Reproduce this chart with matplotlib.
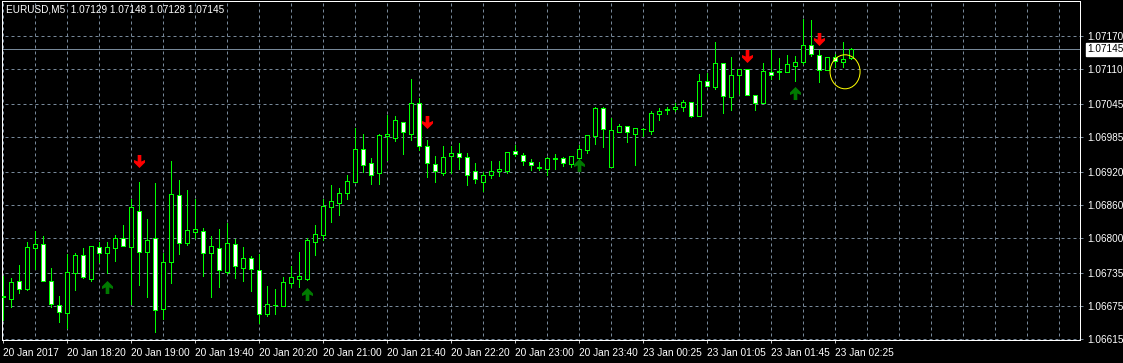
import matplotlib
matplotlib.use("Agg")
import matplotlib.pyplot as plt
import matplotlib.transforms as mtransforms
from matplotlib.path import Path
from matplotlib.patches import Ellipse
import numpy as np

# EURUSD M5, bars from 20 Jan 2017 17:40 to 23 Jan 02:30
symbol = "EURUSD,M5"
opens = [1.06691, 1.06688, 1.06721, 1.06707, 1.06781, 1.06788, 1.06722, 1.06677, 1.06663, 1.06736,
         1.06768, 1.06725, 1.06783, 1.06772, 1.06781, 1.06799, 1.06784, 1.06849, 1.06775, 1.06799,
         1.06669, 1.06755, 1.06878, 1.06790, 1.06810, 1.06812, 1.06772, 1.06781, 1.06738, 1.06789,
         1.06745, 1.06763, 1.06741, 1.06661, 1.06678, 1.06675, 1.06717, 1.06725, 1.06725, 1.06793,
         1.06806, 1.06857, 1.06864, 1.06882, 1.06903, 1.06962, 1.06937, 1.06918, 1.06986, 1.06983,
         1.07013, 1.06991, 1.07046, 1.06968, 1.06935, 1.06918, 1.06949, 1.06955, 1.06948, 1.06922,
         1.06902, 1.06915, 1.06922, 1.06922, 1.06959, 1.06951, 1.06938, 1.06929, 1.06927, 1.06945,
         1.06946, 1.06935, 1.06947, 1.06960, 1.06987, 1.07037, 1.06929, 1.06994, 1.07004, 1.06991,
         1.06999, 1.06996, 1.07027, 1.07034, 1.07035, 1.07039, 1.07048, 1.07024, 1.07088, 1.07077,
         1.07120, 1.07058, 1.07099, 1.07109, 1.07061, 1.07046, 1.07103, 1.07105, 1.07103, 1.07115,
         1.07121, 1.07153, 1.07135, 1.07107, 1.07131, 1.07122, 1.07129]
highs = [1.06730, 1.06726, 1.06750, 1.06792, 1.06813, 1.06803, 1.06745, 1.06694, 1.06770, 1.06773,
         1.06781, 1.06786, 1.06792, 1.06792, 1.06805, 1.06824, 1.06871, 1.06902, 1.06835, 1.06900,
         1.06772, 1.06941, 1.06906, 1.06888, 1.06872, 1.06819, 1.06803, 1.06816, 1.06827, 1.06798,
         1.06783, 1.06767, 1.06770, 1.06712, 1.06707, 1.06728, 1.06749, 1.06774, 1.06799, 1.06824,
         1.06872, 1.06897, 1.06891, 1.06916, 1.07001, 1.06990, 1.06946, 1.06991, 1.07025, 1.07023,
         1.07013, 1.07091, 1.07056, 1.06979, 1.06950, 1.06968, 1.06968, 1.06973, 1.06955, 1.06937,
         1.06921, 1.06941, 1.06941, 1.06957, 1.06970, 1.06956, 1.06944, 1.06938, 1.06948, 1.06953,
         1.06948, 1.06949, 1.06970, 1.06988, 1.07039, 1.07040, 1.07019, 1.07008, 1.07004, 1.07001,
         1.07001, 1.07032, 1.07037, 1.07039, 1.07047, 1.07052, 1.07049, 1.07100, 1.07101, 1.07159,
         1.07120, 1.07131, 1.07109, 1.07109, 1.07061, 1.07120, 1.07143, 1.07129, 1.07134, 1.07133,
         1.07201, 1.07199, 1.07144, 1.07131, 1.07137, 1.07159, 1.07148]
lows = [1.06650, 1.06674, 1.06700, 1.06705, 1.06744, 1.06722, 1.06673, 1.06647, 1.06635, 1.06705,
        1.06726, 1.06722, 1.06755, 1.06735, 1.06758, 1.06785, 1.06679, 1.06714, 1.06692, 1.06627,
        1.06652, 1.06718, 1.06771, 1.06787, 1.06799, 1.06731, 1.06692, 1.06711, 1.06734, 1.06727,
        1.06722, 1.06702, 1.06645, 1.06658, 1.06661, 1.06675, 1.06711, 1.06711, 1.06723, 1.06769,
        1.06796, 1.06830, 1.06842, 1.06871, 1.06903, 1.06921, 1.06899, 1.06899, 1.06942, 1.06977,
        1.06954, 1.06979, 1.06960, 1.06912, 1.06903, 1.06915, 1.06918, 1.06927, 1.06897, 1.06900,
        1.06886, 1.06909, 1.06914, 1.06919, 1.06950, 1.06933, 1.06924, 1.06924, 1.06915, 1.06927,
        1.06932, 1.06929, 1.06944, 1.06956, 1.06971, 1.06966, 1.06929, 1.06993, 1.06976, 1.06933,
        1.06987, 1.06991, 1.07016, 1.07027, 1.07033, 1.07033, 1.07022, 1.07024, 1.07078, 1.07072,
        1.07028, 1.07034, 1.07063, 1.07061, 1.07034, 1.07046, 1.07091, 1.07090, 1.07103, 1.07088,
        1.07118, 1.07133, 1.07085, 1.07107, 1.07113, 1.07113, 1.07128]
closes = [1.06693, 1.06719, 1.06706, 1.06783, 1.06788, 1.06722, 1.06679, 1.06665, 1.06738, 1.06768,
          1.06729, 1.06785, 1.06773, 1.06783, 1.06799, 1.06785, 1.06856, 1.06774, 1.06796, 1.06668,
          1.06755, 1.06880, 1.06790, 1.06814, 1.06816, 1.06772, 1.06785, 1.06741, 1.06791, 1.06748,
          1.06763, 1.06743, 1.06661, 1.06679, 1.06677, 1.06719, 1.06728, 1.06730, 1.06796, 1.06807,
          1.06858, 1.06867, 1.06882, 1.06905, 1.06962, 1.06933, 1.06916, 1.06988, 1.06990, 1.07015,
          1.06993, 1.07046, 1.06969, 1.06937, 1.06922, 1.06948, 1.06955, 1.06948, 1.06916, 1.06907,
          1.06916, 1.06922, 1.06926, 1.06957, 1.06953, 1.06940, 1.06933, 1.06928, 1.06946, 1.06946,
          1.06937, 1.06949, 1.06962, 1.06988, 1.07037, 1.06999, 1.06997, 1.07005, 1.06994, 1.07001,
          1.07000, 1.07028, 1.07032, 1.07035, 1.07039, 1.07049, 1.07024, 1.07088, 1.07078, 1.07120,
          1.07059, 1.07099, 1.07109, 1.07061, 1.07046, 1.07105, 1.07099, 1.07104, 1.07118, 1.07122,
          1.07153, 1.07136, 1.07107, 1.07131, 1.07124, 1.07127, 1.07145]

price_levels = [1.07170, 1.07110, 1.07045, 1.06985, 1.06920, 1.06860, 1.06800, 1.06735, 1.06675, 1.06615]
time_labels = ["20 Jan 2017", "20 Jan 18:20", "20 Jan 19:00", "20 Jan 19:40", "20 Jan 20:20",
               "20 Jan 21:00", "20 Jan 21:40", "20 Jan 22:20", "20 Jan 23:00", "20 Jan 23:40",
               "23 Jan 00:25", "23 Jan 01:05", "23 Jan 01:45", "23 Jan 02:25"]

# signal arrows
sell_bars = [17, 53, 93, 102]
sell_prices = [1.06940, 1.07013, 1.07132, 1.07164]
buy_bars = [13, 38, 72, 99]
buy_prices = [1.06710, 1.06697, 1.06933, 1.07065]
circle_bar = 105.2
circle_price = 1.07104

W, H = 1123, 363
PX = 0.72  # one pixel in points
LIME = "#00FF00"
GRIDC = "#778899"
FONT = "Liberation Sans"

fig = plt.figure(figsize=(W / 100, H / 100), dpi=100, facecolor="black")
ax = fig.add_axes([2 / W, 23 / H, 1078.3 / W, 339.5 / H])
ax.set_facecolor("black")

o = np.array(opens)
h = np.array(highs)
l = np.array(lows)
c = np.array(closes)
x = np.arange(len(o))

ax.set_xlim(-0.1625, 134.6)
ax.set_ylim(1.0661317, 1.0723446)

# grid
ax.vlines(np.arange(0, 134, 4), 1.0661, 1.0724, colors=GRIDC, linewidth=PX,
          linestyles=(0, (3, 3)), zorder=0)
ax.hlines(price_levels, -1, 136, colors=GRIDC, linewidth=PX,
          linestyles=(0, (3, 3)), zorder=0)

# current price line
ax.axhline(c[-1], color=GRIDC, linewidth=PX, zorder=1)

# candles
ax.vlines(x, l, h, colors=LIME, linewidth=PX, zorder=2, antialiased=False)
faces = np.where(c >= o, "black", "white")
body = np.maximum(np.abs(c - o), 1e-7)
ax.bar(x, body, bottom=np.minimum(o, c), width=0.5, color=faces,
       edgecolor=LIME, linewidth=PX, zorder=3, antialiased=False)

# arrows
down = Path([(-0.14, 0.5), (0.14, 0.5), (0.14, 0.0), (0.42, 0.12), (0.42, -0.08),
             (0.0, -0.5), (-0.42, -0.08), (-0.42, 0.12), (-0.14, 0.0), (-0.14, 0.5)],
            closed=True)
up = Path([(vx, -vy) for vx, vy in down.vertices], closed=True)
ax.plot(sell_bars, sell_prices, linestyle="none", marker=down, markersize=9.4,
        color="#FF0000", markeredgewidth=0, zorder=4)
ax.plot(buy_bars, buy_prices, linestyle="none", marker=up, markersize=9.4,
        color="#007A00", markeredgewidth=0, zorder=4)

ax.add_patch(Ellipse((circle_bar, circle_price), width=30 / 8, height=34 * 0.0000183,
                     fill=False, edgecolor="#FFFF00", linewidth=PX, zorder=5))

# axes styling
for s in ax.spines.values():
    s.set_color("white")
    s.set_linewidth(PX)

ax.yaxis.tick_right()
ax.set_yticks(price_levels)
ax.set_yticklabels(["%.5f" % p for p in price_levels])
ax.tick_params(axis="y", colors=GRIDC, labelcolor="white", length=2.2, width=PX,
               pad=2.5, labelsize=7.2)
ax.set_xticks(np.arange(0, 8 * len(time_labels), 8))
ax.set_xticklabels(time_labels)
ax.tick_params(axis="x", colors="#C0C0C0", labelcolor="white", length=2.2, width=PX,
               pad=3.3, labelsize=7.3)
for t in ax.get_xticklabels():
    t.set_horizontalalignment("left")
for t in ax.get_xticklabels() + ax.get_yticklabels():
    t.set_fontfamily(FONT)

# last price label
trans = mtransforms.blended_transform_factory(ax.transAxes, ax.transData)
ax.text(1 + 6.5 / 1078.3, c[-1], "%.5f" % c[-1], transform=trans, ha="left", va="center",
        fontsize=7.2, family=FONT, color="black",
        bbox=dict(boxstyle="square,pad=0.12", facecolor="white", edgecolor="white"))

fig.text(6 / W, 1 - 10 / H, "%s  %.5f %.5f %.5f %.5f" % (symbol, o[-1], h[-1], l[-1], c[-1]),
         color="white", fontsize=7.2, family=FONT, va="center", ha="left")

fig.savefig("out.png", dpi=100, facecolor="black")
